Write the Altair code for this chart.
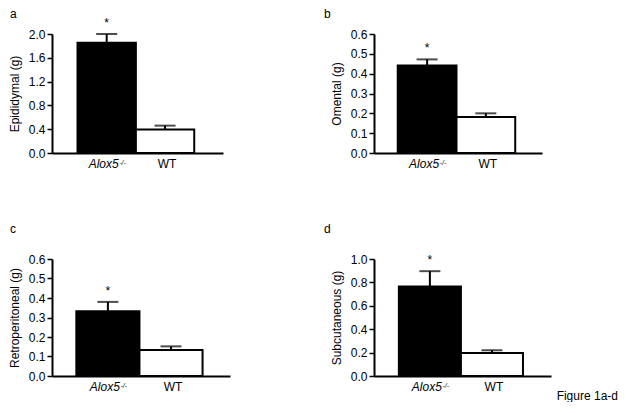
import altair as alt
import pandas as pd

# ---- data ----
groups = ["Alox5", "WT"]
stars = ["*", ""]
italic_labels = ["Alox5", ""]
sup_labels = ["-/-", ""]
plain_labels = ["", "WT"]

panel_letters = ["a", "b", "c", "d"]
y_titles = ["Epididymal (g)", "Omental (g)", "Retroperitoneal (g)", "Subcutaneous (g)"]

epididymal_mean = [1.855, 0.393]
epididymal_sem = [0.145, 0.067]
omental_mean = [0.441, 0.182]
omental_sem = [0.031, 0.018]
retro_mean = [0.332, 0.133]
retro_sem = [0.048, 0.019]
subcut_mean = [0.766, 0.197]
subcut_sem = [0.130, 0.023]

y_max = [2.0, 0.6, 0.6, 1.0]
ticks_a = [0.0, 0.4, 0.8, 1.2, 1.6, 2.0]
ticks_b = [0.0, 0.1, 0.2, 0.3, 0.4, 0.5, 0.6]
ticks_c = [0.0, 0.1, 0.2, 0.3, 0.4, 0.5, 0.6]
ticks_d = [0.0, 0.2, 0.4, 0.6, 0.8, 1.0]

footer = "Figure 1a-d"
FONT = "Liberation Sans"


def panel(letter, title, mean, sem, ymax, ticks, width, height, pad_outer,
          letter_x, letter_y, footer_pos=None):
    df = pd.DataFrame({
        "group": groups,
        "mean": mean,
        "upper": [m + s for m, s in zip(mean, sem)],
        "star": stars,
        "lab_i": italic_labels,
        "lab_s": sup_labels,
        "lab_p": plain_labels,
    })
    xenc = alt.X(
        "group:N", sort=groups,
        scale=alt.Scale(domain=groups, paddingInner=0, paddingOuter=pad_outer, align=0.47),
        axis=alt.Axis(title=None, labels=False, ticks=False, domain=True,
                      domainColor="black", domainWidth=2),
    )
    yscale = alt.Scale(domain=[0, ymax], nice=False, zero=True)
    yaxis = alt.Axis(title=title, values=ticks, format=".1f")
    base = alt.Chart(df).encode(x=xenc)

    bars = base.mark_bar(stroke="black", strokeWidth=2).encode(
        y=alt.Y("mean:Q", scale=yscale, axis=yaxis),
        fill=alt.Fill("group:N", scale=alt.Scale(domain=groups, range=["black", "white"]),
                      legend=None),
    )
    err = base.mark_rule(color="black", strokeWidth=2).encode(
        y=alt.Y("mean:Q", scale=yscale, axis=yaxis), y2="upper:Q"
    )
    cap = base.mark_tick(color="black", thickness=2, size=21).encode(
        y=alt.Y("upper:Q", scale=yscale, axis=yaxis)
    )
    star_txt = base.mark_text(fontSize=12, baseline="alphabetic", dy=-7, color="black").encode(
        y=alt.Y("upper:Q", scale=yscale, axis=yaxis), text="star:N"
    )
    lab_i = base.mark_text(fontSize=12, fontStyle="italic", align="right", dx=12,
                           baseline="alphabetic", color="black").encode(
        y=alt.value(height + 15), text="lab_i:N")
    lab_s = base.mark_text(fontSize=7, fontStyle="italic", align="left", dx=12.5,
                           baseline="alphabetic", color="black").encode(
        y=alt.value(height + 11.5), text="lab_s:N")
    lab_p = base.mark_text(fontSize=12, align="center", dx=2,
                           baseline="alphabetic", color="black").encode(
        y=alt.value(height + 15), text="lab_p:N")

    letter_df = pd.DataFrame({"t": [letter]})
    let = alt.Chart(letter_df).mark_text(fontSize=12, align="left", baseline="alphabetic",
                                         color="black").encode(
        x=alt.value(letter_x), y=alt.value(letter_y), text="t:N")

    layers = [bars, err, cap, star_txt, lab_i, lab_s, lab_p, let]
    if footer_pos is not None:
        fdf = pd.DataFrame({"t": [footer]})
        layers.append(
            alt.Chart(fdf).mark_text(fontSize=12, align="right", baseline="middle",
                                     color="black").encode(
                x=alt.value(footer_pos[0]), y=alt.value(footer_pos[1]), text="t:N")
        )
    return alt.layer(*layers).properties(width=width, height=height)


pa = panel(panel_letters[0], y_titles[0], epididymal_mean, epididymal_sem, y_max[0], ticks_a,
           171, 119, 0.465, -42, -16)
pb = panel(panel_letters[1], y_titles[1], omental_mean, omental_sem, y_max[1], ticks_b,
           168, 119, 0.43, -50, -16)
pc = panel(panel_letters[2], y_titles[2], retro_mean, retro_sem, y_max[2], ticks_c,
           178, 117, 0.41, -42, -26)
pdd = panel(panel_letters[3], y_titles[3], subcut_mean, subcut_sem, y_max[3], ticks_d,
            177, 117, 0.426, -50, -26, footer_pos=(244, 137))

chart = alt.concat(
    pa, pb, pc, pdd, columns=2,
    spacing=alt.RowColnumber(row=106, column=144),
    bounds="flush",
).properties(
    padding={"left": 0, "top": 0, "right": 0, "bottom": 0}
).configure_view(stroke=None).configure_axis(
    labelFont=FONT, labelFontSize=12, labelColor="black",
    titleFont=FONT, titleFontSize=12, titleFontWeight="normal", titleColor="black",
    domainColor="black", domainWidth=2, tickColor="black", tickWidth=1.5, tickSize=5,
    labelPadding=2, titlePadding=7, grid=False,
).configure_text(font=FONT)

chart.save("out.html", embed_options={"renderer": "svg", "actions": False})
